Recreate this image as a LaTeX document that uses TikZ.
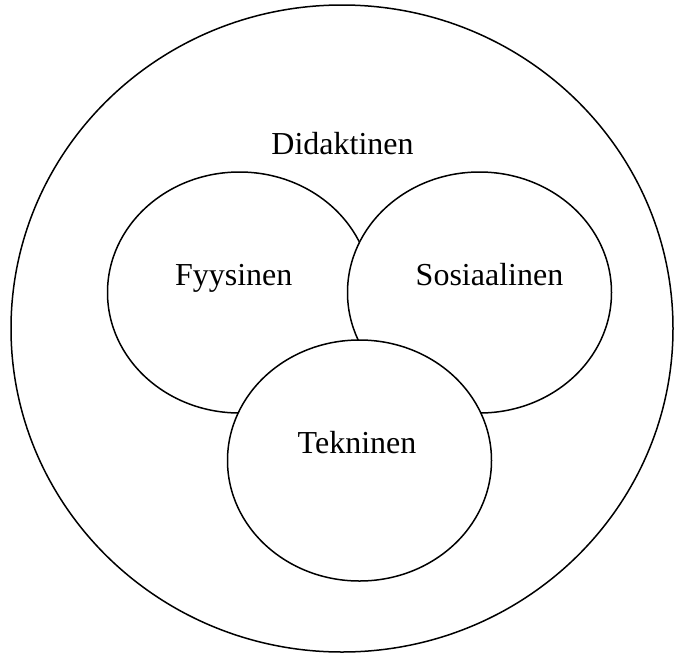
\documentclass[tikz,border=0pt]{standalone}
\usepackage{fontspec}
\setmainfont{Liberation Serif}
\begin{document}
\begin{tikzpicture}[x=1pt,y=-1pt,line width=1.5pt,font=\fontsize{32}{38}\selectfont]
\useasboundingbox (0,0) rectangle (675,654);
\draw (342,328.5) ellipse (331 and 323.5);
\node[anchor=base] (did) at (342.5,154.5) {Didaktinen};
\draw[fill=white] (239.5,292.5) ellipse (132 and 120.5);
\draw[fill=white] (479.5,292.5) ellipse (132 and 120.5);
\draw[fill=white] (359.5,460.5) ellipse (132 and 120.5);
\node[anchor=base] (fys) at (233.7,285) {Fyysinen};
\node[anchor=base] (sos) at (489.5,285) {Sosiaalinen};
\node[anchor=base] (tek) at (357,453.5) {Tekninen};
\end{tikzpicture}
\end{document}
